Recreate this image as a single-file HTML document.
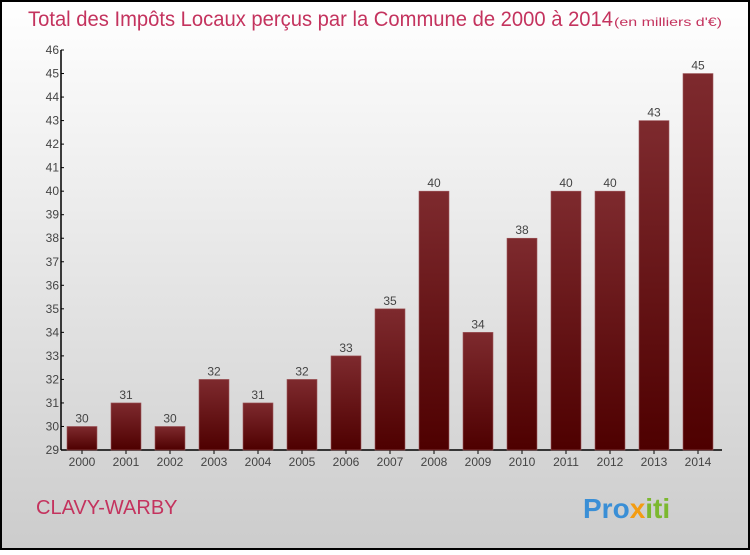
<!DOCTYPE html>
<html><head><meta charset="utf-8"><style>
html,body{margin:0;padding:0}
body{width:750px;height:550px;overflow:hidden;font-family:"Liberation Sans",sans-serif}
</style></head><body>
<svg id="c" width="750" height="550" xmlns="http://www.w3.org/2000/svg">
<defs>
<linearGradient id="bg" x1="0" y1="0" x2="0" y2="1"><stop offset="0" stop-color="#ffffff"/><stop offset="1" stop-color="#cccccc"/></linearGradient>
<linearGradient id="bar" x1="0" y1="0" x2="0" y2="1"><stop offset="0" stop-color="#7e2a2e"/><stop offset="1" stop-color="#4e0000"/></linearGradient>
</defs>
<rect x="1" y="1" width="748" height="548" fill="url(#bg)" stroke="#000" stroke-width="2"/>
<text x="28" y="26" font-size="21" fill="#c4335e" textLength="585" lengthAdjust="spacingAndGlyphs">Total des Impôts Locaux perçus par la Commune de 2000 à 2014</text>
<text x="614" y="26" font-size="12" fill="#c4335e" textLength="108" lengthAdjust="spacingAndGlyphs">(en milliers d'€)</text>
<text x="36" y="514" font-size="20" fill="#c4335e">CLAVY-WARBY</text>
<g font-size="28" font-weight="bold">
<text x="583" y="518"><tspan fill="#3a8fd6">Pro</tspan><tspan fill="#f39c12">x</tspan><tspan fill="#7cb82f">iti</tspan></text>
</g>
<g id="axes"></g>
<g id="bars"></g>
</svg>
<script>
const categories=["2000","2001","2002","2003","2004","2005","2006","2007","2008","2009","2010","2011","2012","2013","2014"];
const values=[30,31,30,32,31,32,33,35,40,34,38,40,40,43,45];
const yTicks=[29,30,31,32,33,34,35,36,37,38,39,40,41,42,43,44,45,46];
const NS="http://www.w3.org/2000/svg";
const yMin=29,yMax=46,plotTop=50,plotBot=450,x0=61,step=44,firstC=82,bw=30;
const y=v=>plotBot-(v-yMin)/(yMax-yMin)*(plotBot-plotTop);
const x=i=>firstC+i*step;
function mk(t,a,p){const e=document.createElementNS(NS,t);for(const k in a)e.setAttribute(k,a[k]);p.appendChild(e);return e;}
const ax=document.getElementById('axes'),bg=document.getElementById('bars');
let e=mk('line',{x1:x0,y1:plotTop,x2:x0,y2:plotBot,stroke:'#000','stroke-width':1.5},ax);


e=mk('line',{x1:x0,y1:plotBot,x2:722,y2:plotBot,stroke:'#000','stroke-width':1.5},ax);


yTicks.forEach(v=>{
 mk('line',{x1:x0,y1:y(v),x2:x0+3,y2:y(v),stroke:'#000'},ax);
 const t=mk('text',{x:x0-2,y:y(v)+4,'font-size':12,fill:'#444','text-anchor':'end'},ax);t.textContent=v;
 
 
});
categories.forEach((c,i)=>{
 mk('line',{x1:x(i),y1:plotBot,x2:x(i),y2:plotBot+4,stroke:'#000'},ax);
 const t=mk('text',{x:x(i),y:plotBot+16,'font-size':12,fill:'#444','text-anchor':'middle'},ax);t.textContent=c;
 
 
 const r=mk('rect',{x:x(i)-bw/2,y:y(values[i]),width:bw,height:plotBot-y(values[i]),fill:'url(#bar)',stroke:'#a05a5e','stroke-width':0.6},bg);
 
 
 const l=mk('text',{x:x(i),y:y(values[i])-4,'font-size':12,fill:'#444','text-anchor':'middle'},bg);l.textContent=values[i];
 
 
});
</script>
</body></html>
